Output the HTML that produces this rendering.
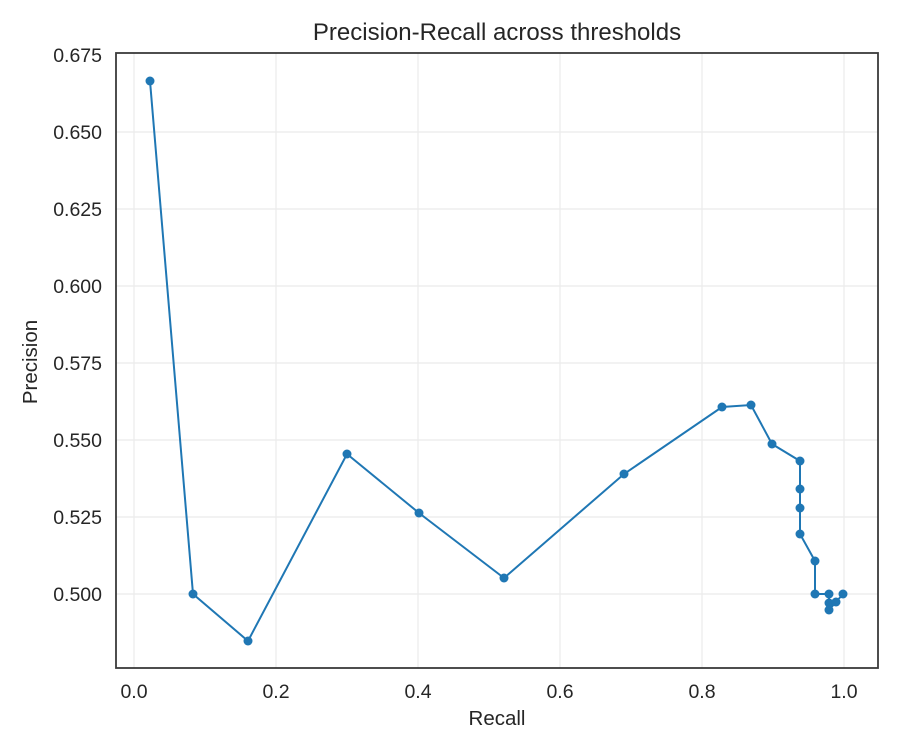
<!DOCTYPE html>
<html><head><style>body{margin:0;background:#fff}svg{display:block}</style></head><body>
<svg width="900" height="750" xmlns="http://www.w3.org/2000/svg" font-family="Liberation Sans, sans-serif">
<rect width="900" height="750" fill="#fff"/>
<g stroke="#ebebeb" stroke-width="1.2">
<line x1="134" y1="53" x2="134" y2="668"/><line x1="276" y1="53" x2="276" y2="668"/><line x1="418" y1="53" x2="418" y2="668"/><line x1="560" y1="53" x2="560" y2="668"/><line x1="702" y1="53" x2="702" y2="668"/><line x1="844" y1="53" x2="844" y2="668"/>
<line x1="116" y1="132" x2="878" y2="132"/><line x1="116" y1="209" x2="878" y2="209"/><line x1="116" y1="286" x2="878" y2="286"/><line x1="116" y1="363" x2="878" y2="363"/><line x1="116" y1="440" x2="878" y2="440"/><line x1="116" y1="517" x2="878" y2="517"/><line x1="116" y1="594" x2="878" y2="594"/>
</g>
<rect x="116" y="53" width="762" height="615" fill="none" stroke="#3a3a3a" stroke-width="1.8"/>
<g font-size="19.5" fill="#262626" text-anchor="end">
<text x="102" y="62">0.675</text><text x="102" y="139">0.650</text><text x="102" y="216">0.625</text><text x="102" y="293">0.600</text><text x="102" y="370">0.575</text><text x="102" y="447">0.550</text><text x="102" y="524">0.525</text><text x="102" y="601">0.500</text>
</g>
<g font-size="19.5" fill="#262626" text-anchor="middle">
<text x="134" y="698">0.0</text><text x="276" y="698">0.2</text><text x="418" y="698">0.4</text><text x="560" y="698">0.6</text><text x="702" y="698">0.8</text><text x="844" y="698">1.0</text>
<text x="497" y="725" font-size="20.5">Recall</text>
<text x="497" y="40" font-size="24">Precision-Recall across thresholds</text>
<text transform="translate(37,362) rotate(-90)" font-size="20.5">Precision</text>
</g>
<polyline fill="none" stroke="#1f77b4" stroke-width="2" points="150,81 193,594 248,641 347,454 419,513 504,578 624,474 722,407 751,405 772,444 800,461 800,489 800,508 800,534 815,561 815,594 829,594 829,603 829,610 836,602 843,594"/>
<g fill="#1f77b4">
<circle cx="150" cy="81" r="4.5"/><circle cx="193" cy="594" r="4.5"/><circle cx="248" cy="641" r="4.5"/><circle cx="347" cy="454" r="4.5"/><circle cx="419" cy="513" r="4.5"/><circle cx="504" cy="578" r="4.5"/><circle cx="624" cy="474" r="4.5"/><circle cx="722" cy="407" r="4.5"/><circle cx="751" cy="405" r="4.5"/><circle cx="772" cy="444" r="4.5"/><circle cx="800" cy="461" r="4.5"/><circle cx="800" cy="489" r="4.5"/><circle cx="800" cy="508" r="4.5"/><circle cx="800" cy="534" r="4.5"/><circle cx="815" cy="561" r="4.5"/><circle cx="815" cy="594" r="4.5"/><circle cx="829" cy="594" r="4.5"/><circle cx="829" cy="603" r="4.5"/><circle cx="829" cy="610" r="4.5"/><circle cx="836" cy="602" r="4.5"/><circle cx="843" cy="594" r="4.5"/>
</g>
</svg>
</body></html>
